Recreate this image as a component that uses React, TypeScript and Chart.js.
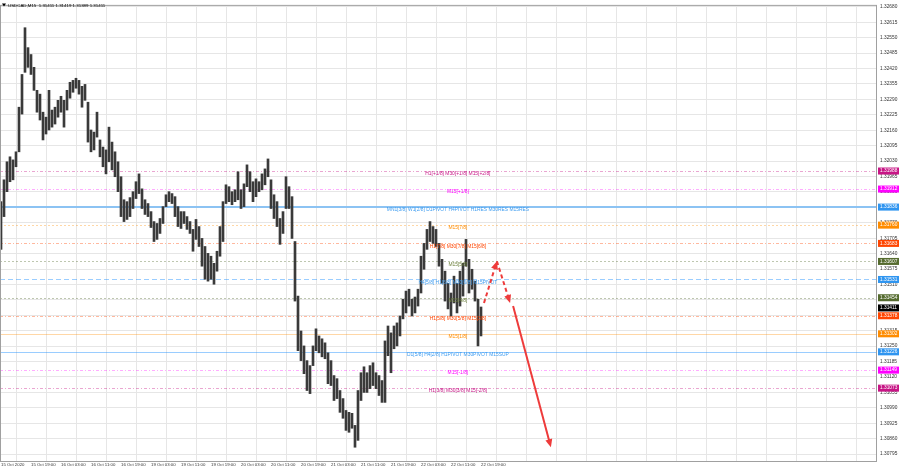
import React, { useEffect, useRef } from "react";
import { Chart, registerables } from "chart.js";
Chart.register(...registerables);

// ---------- data ----------
const SYMBOL_TITLE = "USDCAD,M15  1.31411 1.31419 1.31389 1.31411";

const BAR_HIGH = [
  1.31859, 1.31951, 1.32027, 1.32048, 1.32035, 1.32069, 1.32257, 1.32395, 1.32592, 1.32508,
  1.32479, 1.32425, 1.32328, 1.32312, 1.32236, 1.32215, 1.32328, 1.32245, 1.32257, 1.32286,
  1.32303, 1.32286, 1.32328, 1.32362, 1.3237, 1.32379, 1.3237, 1.32345, 1.32353, 1.32278,
  1.32161, 1.32152, 1.32236, 1.32119, 1.32089, 1.32077, 1.32173, 1.3211, 1.32069, 1.32027,
  1.31964, 1.31867, 1.31859, 1.31876, 1.31901, 1.31943, 1.31976, 1.31913, 1.31867, 1.31851,
  1.31817, 1.31775, 1.31767, 1.31788, 1.31838, 1.31888, 1.31901, 1.31893, 1.3188, 1.31838,
  1.31817, 1.31817, 1.31796, 1.31775, 1.31742, 1.31784, 1.31754, 1.31704, 1.3167, 1.31641,
  1.31629, 1.31599, 1.3165, 1.31754, 1.31859, 1.3193, 1.31922, 1.31901, 1.31909, 1.31985,
  1.31909, 1.31934, 1.32014, 1.31985, 1.31943, 1.31955, 1.31943, 1.31976, 1.31997, 1.32039,
  1.31951, 1.31888, 1.31859, 1.31788, 1.31817, 1.31964, 1.31922, 1.3188, 1.31691, 1.31461,
  1.31314, 1.31251, 1.31189, 1.31168, 1.31251, 1.31323, 1.31293, 1.31281, 1.31264, 1.31222,
  1.31189, 1.31126, 1.31113, 1.31063, 1.31029, 1.30979, 1.30971, 1.30967, 1.30916, 1.31063,
  1.31138, 1.31163, 1.31138, 1.31168, 1.3118, 1.31138, 1.31126, 1.31105, 1.31272, 1.31335,
  1.31306, 1.31335, 1.31348, 1.31377, 1.31448, 1.31482, 1.3149, 1.31448, 1.31457, 1.3149,
  1.31629, 1.31683, 1.31742, 1.31775, 1.31754, 1.31742, 1.31683, 1.31616, 1.31566, 1.31515,
  1.31474, 1.31545, 1.31515, 1.31566, 1.31599, 1.317, 1.31616, 1.31574, 1.31524, 1.31448,
  1.31415,
];

const BAR_LOW = [
  1.31658, 1.31796, 1.31901, 1.31943, 1.31951, 1.32006, 1.32069, 1.32228, 1.32404, 1.32425,
  1.32395, 1.32328, 1.32236, 1.32203, 1.32119, 1.32144, 1.32161, 1.32173, 1.32186, 1.32215,
  1.32236, 1.32173, 1.32245, 1.32295, 1.3232, 1.32337, 1.32312, 1.32257, 1.32286, 1.3211,
  1.32069, 1.32077, 1.32131, 1.32048, 1.32006, 1.31976, 1.32027, 1.31993, 1.31964, 1.31901,
  1.31796, 1.31775, 1.31784, 1.31796, 1.3183, 1.31872, 1.31893, 1.3183, 1.31805, 1.31796,
  1.3175, 1.31691, 1.317, 1.31725, 1.31767, 1.31838, 1.31859, 1.31851, 1.31796, 1.31754,
  1.31746, 1.31767, 1.31742, 1.31725, 1.3165, 1.317, 1.3167, 1.31587, 1.31532, 1.31524,
  1.31532, 1.31511, 1.31566, 1.31629, 1.31691, 1.31851, 1.31859, 1.31846, 1.31859, 1.31867,
  1.3183, 1.31838, 1.31922, 1.31901, 1.31859, 1.3188, 1.31901, 1.31909, 1.3193, 1.31964,
  1.3183, 1.31788, 1.31754, 1.31679, 1.31725, 1.3183, 1.3183, 1.31704, 1.3144, 1.31231,
  1.31189, 1.31134, 1.31063, 1.3105, 1.31168, 1.31231, 1.31222, 1.31205, 1.31197, 1.31092,
  1.31084, 1.31021, 1.31029, 1.30971, 1.30946, 1.30895, 1.30887, 1.30904, 1.30824, 1.30853,
  1.31021, 1.31055, 1.31055, 1.31071, 1.31084, 1.31071, 1.31042, 1.31013, 1.31013, 1.3121,
  1.31138, 1.31239, 1.31251, 1.31293, 1.31365, 1.3139, 1.31419, 1.31377, 1.3139, 1.31419,
  1.31474, 1.31574, 1.31658, 1.31691, 1.31683, 1.3167, 1.31587, 1.31515, 1.3144, 1.31407,
  1.31377, 1.31432, 1.3139, 1.31419, 1.31461, 1.31587, 1.31474, 1.3149, 1.3144, 1.31251,
  1.31293,
];

const TIME_LABELS = [
  "15 Oct 2020", "15 Oct 19:00", "16 Oct 03:00", "16 Oct 11:00", "16 Oct 19:00",
  "19 Oct 03:00", "19 Oct 11:00", "19 Oct 19:00", "20 Oct 03:00", "20 Oct 11:00",
  "20 Oct 19:00", "21 Oct 03:00", "21 Oct 11:00", "21 Oct 19:00", "22 Oct 03:00",
  "22 Oct 11:00", "22 Oct 19:00",
];

const PRICE_TICKS = [
  1.30795, 1.3086, 1.30925, 1.3099, 1.31055, 1.3112, 1.31185, 1.3125, 1.31315, 1.3138,
  1.31445, 1.3151, 1.31575, 1.3164, 1.31705, 1.3177, 1.31835, 1.319, 1.31965, 1.3203,
  1.32095, 1.3216, 1.32225, 1.3229, 1.32355, 1.3242, 1.32485, 1.3255, 1.32615, 1.3268,
];

const LEVEL_PRICES = [
  1.31988, 1.31912, 1.31836, 1.3176, 1.31683, 1.31607, 1.31531,
  1.31454, 1.31378, 1.31302, 1.31226, 1.31149, 1.31073,
];

const LEVEL_TEXTS = [
  "H1[+1/8] M30[+1/8] M15[+2/8]",
  "M15[+1/8]",
  "MN1[3/8] W1[2/8] D1PIVOT H4PIVOT H1RES M30RES M15RES",
  "M15[7/8]",
  "H1[7/8] M30[7/8] M15[6/8]",
  "M15[5/8]",
  "H4[5/8] H1[6/8] M30[6/8] M15PIVOT",
  "M15[4/8]",
  "H1[5/8] M30[5/8] M15[3/8]",
  "M15[1/8]",
  "D1[5/8] H4[2/8] H1PIVOT M30PIVOT M15SUP",
  "M15[-1/8]",
  "H1[3/8] M30[3/8] M15[-2/8]",
];

const LEVEL_LABEL_INDEX = 152.3;
const CURRENT_PRICE = 1.31411;

const FORECAST_INDEX = [161.0, 165.3, 169.7, 170.7, 183.3];
const FORECAST_PRICE = [1.31432, 1.31608, 1.31432, 1.31419, 1.30824];

// ---------- styles ----------
const MVR = { line: "rgba(199,21,133,0.38)", text: "#c71585", box: "#c71585", dash: [3, 2, 1, 2], width: 1 };
const MAG = { line: "rgba(255,0,255,0.32)", text: "#ff00ff", box: "#ff00ff", dash: [3, 2, 1, 2], width: 1 };
const BLUE_MAIN = { line: "#8cc3f3", text: "#3d9cf0", box: "#2f95f0", dash: [], width: 2 };
const BLUE_DASH = { line: "rgba(30,144,255,0.45)", text: "#3d9cf0", box: "#2f95f0", dash: [5, 3], width: 1 };
const BLUE_THIN = { line: "rgba(30,144,255,0.45)", text: "#3d9cf0", box: "#2f95f0", dash: [], width: 1 };
const ORANGE = { line: "rgba(255,140,0,0.35)", text: "#ff8c00", box: "#ff8c00", dash: [2, 2], width: 1 };
const ORANGE_SOLID = { line: "rgba(255,140,0,0.35)", text: "#ff8c00", box: "#ff8c00", dash: [], width: 1 };
const OREDS = { line: "rgba(255,69,0,0.38)", text: "#ff4500", box: "#ff4500", dash: [3, 2, 1, 2], width: 1 };
const OLIVE = { line: "rgba(85,107,47,0.38)", text: "#6b7f3a", box: "#556b2f", dash: [2, 2], width: 1 };
const LEVEL_STYLES = [MVR, MAG, BLUE_MAIN, ORANGE, OREDS, OLIVE, BLUE_DASH, OLIVE, OREDS, ORANGE_SOLID, BLUE_THIN, MAG, MVR];

const FONT = "Liberation Sans, Arial, sans-serif";

function drawArrow(ctx: CanvasRenderingContext2D, x1: number, y1: number, x2: number, y2: number, dash: number[]) {
  const ang = Math.atan2(y2 - y1, x2 - x1);
  const head = 8;
  const hw = 3.5;
  const ex = x2 - Math.cos(ang) * head * 0.7;
  const ey = y2 - Math.sin(ang) * head * 0.7;
  ctx.setLineDash(dash);
  ctx.beginPath();
  ctx.moveTo(x1, y1);
  ctx.lineTo(ex, ey);
  ctx.stroke();
  ctx.setLineDash([]);
  const bx = x2 - Math.cos(ang) * head;
  const by = y2 - Math.sin(ang) * head;
  ctx.beginPath();
  ctx.moveTo(x2, y2);
  ctx.lineTo(bx + Math.sin(ang) * hw, by - Math.cos(ang) * hw);
  ctx.lineTo(bx - Math.sin(ang) * hw, by + Math.cos(ang) * hw);
  ctx.closePath();
  ctx.fill();
}

const overlayPlugin = {
  id: "overlay",
  beforeDatasetsDraw(chart: any) {
    const { ctx, chartArea: a, scales } = chart;
    const y = scales.y;
    ctx.save();
    ctx.beginPath();
    ctx.rect(a.left, a.top, a.right - a.left, a.bottom - a.top);
    ctx.clip();
    LEVEL_PRICES.forEach((p, i) => {
      const st = LEVEL_STYLES[i];
      const py = Math.round(y.getPixelForValue(p)) + (st.width === 1 ? 0.5 : 0);
      ctx.strokeStyle = st.line;
      ctx.lineWidth = st.width;
      ctx.setLineDash(st.dash);
      ctx.beginPath();
      ctx.moveTo(a.left, py);
      ctx.lineTo(a.right, py);
      ctx.stroke();
    });
    ctx.restore();
  },
  afterDatasetsDraw(chart: any) {
    const { ctx, chartArea: a, scales } = chart;
    const x = scales.x;
    const y = scales.y;
    ctx.save();
    // level texts
    ctx.font = `4.9px ${FONT}`;
    ctx.textAlign = "center";
    ctx.textBaseline = "middle";
    const lx = x.getPixelForValue(LEVEL_LABEL_INDEX);
    LEVEL_PRICES.forEach((p, i) => {
      ctx.fillStyle = LEVEL_STYLES[i].text;
      ctx.fillText(LEVEL_TEXTS[i], lx, y.getPixelForValue(p) + 3);
    });
    // forecast arrows
    ctx.strokeStyle = "#ee3b3b";
    ctx.fillStyle = "#ee3b3b";
    ctx.lineWidth = 2;
    const px = FORECAST_INDEX.map((v) => x.getPixelForValue(v));
    const py = FORECAST_PRICE.map((v) => y.getPixelForValue(v));
    drawArrow(ctx, px[0], py[0], px[1], py[1], [4, 3]);
    drawArrow(ctx, px[1], py[1], px[2], py[2], [4, 3]);
    drawArrow(ctx, px[3], py[3], px[4], py[4], []);
    // frame
    ctx.strokeStyle = "#a0a0a0";
    ctx.lineWidth = 1;
    ctx.strokeRect(a.left + 0.5, a.top - 0.5, a.right - a.left - 1, a.bottom - a.top + 1);
    ctx.restore();
  },
  afterDraw(chart: any) {
    const { ctx, chartArea: a, scales } = chart;
    const y = scales.y;
    ctx.save();
    ctx.font = `4.8px ${FONT}`;
    ctx.textAlign = "left";
    ctx.textBaseline = "middle";
    const box = (p: number, color: string) => {
      const py = y.getPixelForValue(p);
      ctx.fillStyle = color;
      ctx.fillRect(a.right + 1, py - 3.5, 21, 7);
      ctx.fillStyle = "#ffffff";
      ctx.fillText(p.toFixed(5), a.right + 3, py);
    };
    LEVEL_PRICES.forEach((p, i) => box(p, LEVEL_STYLES[i].box));
    box(CURRENT_PRICE, "#000000");
    // title
    ctx.fillStyle = "#000";
    ctx.beginPath();
    ctx.moveTo(2, 3.5);
    ctx.lineTo(6, 3.5);
    ctx.lineTo(4, 6.5);
    ctx.closePath();
    ctx.fill();
    ctx.font = `4.4px ${FONT}`;
    ctx.fillText(SYMBOL_TITLE, 8, 5.5);
    ctx.restore();
  },
};

export default function App() {
  const ref = useRef<HTMLCanvasElement>(null);
  useEffect(() => {
    document.body.style.margin = "0";
    const data = BAR_HIGH.map((h, i) => ({ x: i, y: [BAR_LOW[i], h] }));
    const chart = new Chart(ref.current as HTMLCanvasElement, {
      type: "bar",
      data: {
        datasets: [
          {
            data: data as any,
            backgroundColor: "#3a3a3a",
            barThickness: 2,
            grouped: false,
          } as any,
        ],
      },
      options: {
        animation: false,
        responsive: false,
        devicePixelRatio: 1,
        events: [],
        layout: { padding: { top: 3, left: 0, right: 0, bottom: 0 } },
        plugins: { legend: { display: false }, tooltip: { enabled: false }, title: { display: false } },
        scales: {
          x: {
            type: "linear",
            min: -1 / 3,
            max: 292,
            offset: false,
            grid: { color: "#e6e6e6", drawTicks: false },
            border: { display: false },
            afterBuildTicks: (s: any) => {
              const t = [];
              for (let v = 0; v <= 290; v += 10) t.push({ value: v });
              s.ticks = t;
            },
            afterFit: (s: any) => {
              s.height = 9;
            },
            ticks: {
              align: "start",
              autoSkip: false,
              maxRotation: 0,
              padding: 1,
              color: "#333",
              font: { size: 4.3, family: FONT },
              callback: (_v: any, idx: number) => TIME_LABELS[idx] ?? "",
            },
          } as any,
          y: {
            position: "right",
            min: 1.30766,
            max: 1.32684,
            grid: { color: "#e6e6e6", drawTicks: false },
            border: { display: false },
            afterBuildTicks: (s: any) => {
              s.ticks = PRICE_TICKS.map((v) => ({ value: v }));
            },
            afterFit: (s: any) => {
              s.width = 23;
            },
            ticks: {
              padding: 3,
              color: "#333",
              font: { size: 4.8, family: FONT },
              callback: (v: any) => Number(v).toFixed(5),
            },
          } as any,
        },
      },
      plugins: [overlayPlugin as any],
    });
    return () => chart.destroy();
  }, []);
  return (
    <div style={{ width: 900, height: 470, background: "#fff" }}>
      <canvas ref={ref} width={900} height={470} style={{ display: "block" }} />
    </div>
  );
}
